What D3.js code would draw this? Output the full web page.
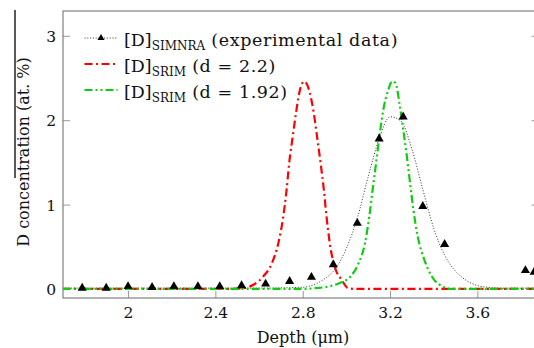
<!DOCTYPE html>
<html>
<head>
<meta charset="utf-8">
<script src="https://cdn.jsdelivr.net/npm/d3@7"></script>
<style>
  body { margin: 0; background: #fff; }
  svg { display: block; }
</style>
</head>
<body>
<svg id="chart" width="534" height="348"></svg>
<script>
// experimental points (SIMNRA)
const expDepth = [1.79, 1.90, 2.00, 2.11, 2.21, 2.32, 2.42, 2.52, 2.63, 2.74, 2.84, 2.94, 3.05, 3.15, 3.26, 3.35, 3.45, 3.82, 3.86]
const expConc = [0.01, 0.01, 0.03, 0.02, 0.03, 0.03, 0.03, 0.04, 0.06, 0.09, 0.14, 0.29, 0.78, 1.78, 2.04, 0.98, 0.53, 0.22, 0.20]

// dotted fit through experimental data
const fitDepth = [1.70, 2.60, 2.80, 2.85, 2.90, 2.95, 3.00, 3.05, 3.10, 3.15, 3.20, 3.25, 3.30, 3.35, 3.40, 3.45, 3.50, 3.55, 3.60, 3.65, 3.70, 3.88]
const fitConc = [0.01, 0.01, 0.02, 0.05, 0.12, 0.24, 0.48, 0.84, 1.33, 1.78, 2.04, 1.99, 1.66, 1.18, 0.72, 0.40, 0.21, 0.10, 0.04, 0.02, 0.01, 0.01]

// SRIM, d = 2.2
const srim22Depth = [1.70, 2.45, 2.53, 2.574, 2.62, 2.658, 2.688, 2.711, 2.726, 2.738, 2.754, 2.769, 2.784, 2.807, 2.833, 2.851, 2.866, 2.882, 2.897, 2.909, 2.924, 2.947, 2.978, 3.008, 3.05, 3.88]
const srim22Conc = [0, 0, 0.01, 0.05, 0.15, 0.30, 0.54, 0.86, 1.17, 1.49, 1.80, 2.08, 2.32, 2.46, 2.32, 2.08, 1.80, 1.49, 1.17, 0.86, 0.54, 0.26, 0.11, 0.01, 0, 0]

// SRIM, d = 1.92
const srim192Depth = [1.70, 2.80, 2.86, 2.92, 2.97, 3.02, 3.055, 3.085, 3.105, 3.12, 3.136, 3.151, 3.169, 3.192, 3.21, 3.225, 3.243, 3.261, 3.277, 3.292, 3.307, 3.327, 3.358, 3.396, 3.44, 3.48, 3.88]
const srim192Conc = [0, 0, 0.01, 0.03, 0.07, 0.15, 0.30, 0.54, 0.86, 1.17, 1.49, 1.80, 2.12, 2.36, 2.46, 2.44, 2.20, 1.88, 1.57, 1.25, 0.94, 0.62, 0.34, 0.13, 0.03, 0, 0]

const xTicks = [2, 2.4, 2.8, 3.2, 3.6]
const yTicks = [0, 1, 2, 3]

const FONT = '"DejaVu Serif", serif'
const frame = { left: 63, right: 538.5, top: 11, bottom: 298 }

const svg = d3.select('#chart')

const x = d3.scaleLinear().domain([1.702, 3.88]).range([frame.left, frame.right])
const y = d3.scaleLinear().domain([-0.107, 3.294]).range([frame.bottom, frame.top])

// Axes (ticks point inward, domain drawn as frame)
const xAxis = svg.append('g')
  .attr('transform', `translate(0,${frame.bottom})`)
  .call(d3.axisBottom(x).tickValues(xTicks).tickFormat(d3.format('')).tickSizeInner(-7).tickSizeOuter(0))
xAxis.select('.domain').remove()
xAxis.selectAll('line').attr('stroke', '#999').attr('stroke-width', 1)
xAxis.selectAll('text')
  .attr('y', 20).attr('dy', 0)
  .attr('fill', '#111').attr('font-family', FONT).attr('font-size', 15.5)

const yAxis = svg.append('g')
  .attr('transform', `translate(${frame.left},0)`)
  .call(d3.axisLeft(y).tickValues(yTicks).tickFormat(d3.format('d')).tickSizeInner(-7).tickSizeOuter(0))
yAxis.select('.domain').remove()
yAxis.selectAll('line').attr('stroke', '#999').attr('stroke-width', 1)
yAxis.selectAll('text')
  .attr('x', -7).attr('dy', '0.36em')
  .attr('fill', '#111').attr('font-family', FONT).attr('font-size', 15.5)

const yAxisRight = svg.append('g')
  .attr('transform', `translate(${frame.right},0)`)
  .call(d3.axisRight(y).tickValues(yTicks).tickFormat('').tickSizeInner(-7).tickSizeOuter(0))
yAxisRight.select('.domain').remove()
yAxisRight.selectAll('line').attr('stroke', '#999').attr('stroke-width', 1)

// Plot area clip
svg.append('clipPath').attr('id', 'plotClip')
  .append('rect')
  .attr('x', frame.left).attr('y', frame.top)
  .attr('width', frame.right - frame.left).attr('height', frame.bottom - frame.top)

const plot = svg.append('g').attr('clip-path', 'url(#plotClip)')

function series(xs, ys) {
  return xs.map((d, i) => [d, ys[i]])
}

const line = d3.line()
  .x(d => x(d[0]))
  .y(d => y(d[1]))
  .curve(d3.curveMonotoneX)

plot.append('path')
  .datum(series(fitDepth, fitConc))
  .attr('d', line)
  .attr('fill', 'none')
  .attr('stroke', '#333')
  .attr('stroke-width', 1)
  .attr('stroke-dasharray', '1,1.8')

plot.append('path')
  .datum(series(srim22Depth, srim22Conc))
  .attr('d', line)
  .attr('fill', 'none')
  .attr('stroke', '#ff0000')
  .attr('stroke-width', 2.2)
  .attr('stroke-dasharray', '8,3.5,2,3.5')

plot.append('path')
  .datum(series(srim192Depth, srim192Conc))
  .attr('d', line)
  .attr('fill', 'none')
  .attr('stroke', '#10cc10')
  .attr('stroke-width', 2.2)
  .attr('stroke-dasharray', '8,3,2,3,2,3')

const tri = d3.symbol().type(d3.symbolTriangle).size(36)

svg.append('g')
  .selectAll('path')
  .data(series(expDepth, expConc))
  .join('path')
  .attr('transform', d => `translate(${x(d[0])},${y(d[1])})`)
  .attr('d', tri)
  .attr('fill', '#000')

// Frame
svg.append('rect')
  .attr('x', frame.left).attr('y', frame.top)
  .attr('width', frame.right - frame.left).attr('height', frame.bottom - frame.top)
  .attr('fill', 'none')
  .attr('stroke', '#808080')
  .attr('stroke-width', 1.2)

// Axis labels
svg.append('text')
  .attr('x', 303).attr('y', 343)
  .attr('text-anchor', 'middle')
  .attr('font-family', FONT).attr('font-size', 16)
  .attr('fill', '#111')
  .text('Depth (μm)')

svg.append('text')
  .attr('transform', 'translate(28.5,152) rotate(-90)')
  .attr('text-anchor', 'middle')
  .attr('font-family', FONT).attr('font-size', 16)
  .attr('fill', '#111')
  .text('D concentration (at. %)')

svg.append('line')
  .attr('x1', 15).attr('x2', 15)
  .attr('y1', 10).attr('y2', 178)
  .attr('stroke', '#000').attr('stroke-width', 1.3)

// Legend
const legendRows = [
  { sub: 'SIMNRA', rest: ' (experimental data)', stroke: '#333', width: 1, dash: '1,1.8', mark: true },
  { sub: 'SRIM', rest: ' (d = 2.2)', stroke: '#ff0000', width: 2.2, dash: '8,3.5,2,3.5', mark: false },
  { sub: 'SRIM', rest: ' (d = 1.92)', stroke: '#10cc10', width: 2.2, dash: '8,3,2,3,2,3', mark: false }
]

const legend = svg.append('g')
legendRows.forEach((r, i) => {
  const base = 46 + i * 26
  legend.append('line')
    .attr('x1', 84.5).attr('x2', 117.5)
    .attr('y1', base - 8).attr('y2', base - 8)
    .attr('stroke', r.stroke)
    .attr('stroke-width', r.width)
    .attr('stroke-dasharray', r.dash)
  if (r.mark) {
    legend.append('path')
      .attr('transform', `translate(101,${base - 8})`)
      .attr('d', d3.symbol().type(d3.symbolTriangle).size(22))
      .attr('fill', '#000')
  }
  const t = legend.append('text')
    .attr('x', 124).attr('y', base)
    .attr('font-family', FONT).attr('font-size', 17.5)
    .attr('fill', '#111')
  t.append('tspan').text('[D]')
  t.append('tspan').attr('dy', 4).attr('font-size', 12).text(r.sub)
  t.append('tspan').attr('dy', -4).attr('letter-spacing', 0.6).text(r.rest)
})
</script>
</body>
</html>
